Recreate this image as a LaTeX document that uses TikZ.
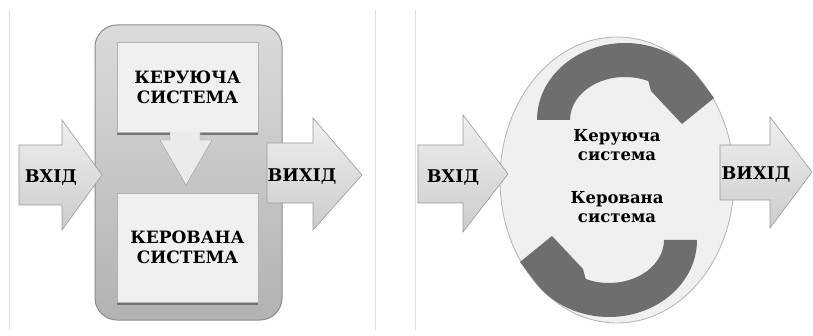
\documentclass[tikz,border=0pt]{standalone}
\usepackage{fontspec}
\setmainfont{DejaVu Serif}
\usetikzlibrary{shadows,shapes.geometric}

\tikzset{
  trenner/.style={draw=black!12, line width=0.8pt},
  rahmen/.style={draw=black!45, line width=1pt, rounded corners=22pt,
                 top color=black!14, bottom color=black!30},
  blok/.style={draw=black!30, fill=black!6, align=center,
               drop shadow={shadow xshift=0pt, shadow yshift=-3pt, fill=black!55, opacity=1},
               font=\bfseries\fontsize{17}{20}\selectfont},
  strilka/.style={draw=black!40, line width=0.6pt, top color=black!6, bottom color=black!20},
  napys/.style={font=\bfseries\fontsize{17.5}{20}\selectfont, align=center},
  tekst/.style={font=\bfseries\fontsize{16.5}{19.5}\selectfont, align=center},
  ovall/.style={draw=black!30, line width=0.8pt, fill=black!6},
  kolo/.style={fill=black!57}
}

\begin{document}
\begin{tikzpicture}[x=1pt,y=1pt]

\fill[white] (0,0) rectangle (813,-336);
\useasboundingbox (0,0) rectangle (813,-336);

% Ліва схема
\begin{scope}
    \draw[trenner] (9,-10) -- (9,-330);
    \draw[trenner] (375,-10) -- (375,-330);

    \path[rahmen] (95,-25) rectangle (282,-320);

    \node[blok, minimum width=141pt, minimum height=90pt] (keruyucha) at (187.5,-87) {КЕРУЮЧА\\СИСТЕМА};
    \node[blok, minimum width=141pt, minimum height=109pt] (kerovana) at (187.5,-247.5) {КЕРОВАНА\\СИСТЕМА};

    % стрілка між блоками
    \filldraw[draw=black!40, fill=black!8] (170,-132) -- (170,-140) -- (160,-140) -- (186,-185)
        -- (212,-140) -- (200,-140) -- (200,-132);

    % вхід і вихід
    \path[strilka] (19,-145) -- (62,-145) -- (62,-120) -- (102,-175) -- (62,-230) -- (62,-205) -- (19,-205) -- cycle;
    \path[strilka] (267,-143) -- (313,-143) -- (313,-118) -- (362,-175) -- (313,-230) -- (313,-203) -- (267,-203) -- cycle;

    \node[napys] (vkhid) at (51,-177) {ВХІД};
    \node[napys] (vykhid) at (302,-176) {ВИХІД};
\end{scope}

% Права схема
\begin{scope}[xshift=400pt]
    \draw[trenner] (15,-10) -- (15,-330);

    \node[ovall, ellipse, minimum width=234pt, minimum height=286pt, inner sep=0pt] (kontur) at (217,-180) {};

    % кругові стрілки
    \foreach \w in {0,180} {
        \fill[kolo, rotate around={\w:(217,-180)}] (137,-120)
            arc[start angle=180, end angle=34, x radius=88, y radius=77]
            -- (314,-98) -- (282,-124) -- (251,-91)
            -- ([shift={(225,-120)}]65:55 and 43)
            arc[start angle=65, end angle=180, x radius=55, y radius=43] -- cycle;
    }

    \path[strilka] (18,-145) -- (63,-145) -- (63,-115) -- (108,-174) -- (63,-232) -- (63,-203) -- (18,-203) -- cycle;
    \path[strilka] (320,-145) -- (370,-145) -- (370,-117) -- (412,-172) -- (370,-228) -- (370,-200) -- (320,-200) -- cycle;

    \node[napys] (vkhid2) at (53,-177) {ВХІД};
    \node[napys] (vykhid2) at (356,-174) {ВИХІД};

    \node[tekst] (keruyucha2) at (217,-145) {Керуюча\\система};
    \node[tekst] (kerovana2) at (217,-207) {Керована\\система};
\end{scope}

\end{tikzpicture}
\end{document}
